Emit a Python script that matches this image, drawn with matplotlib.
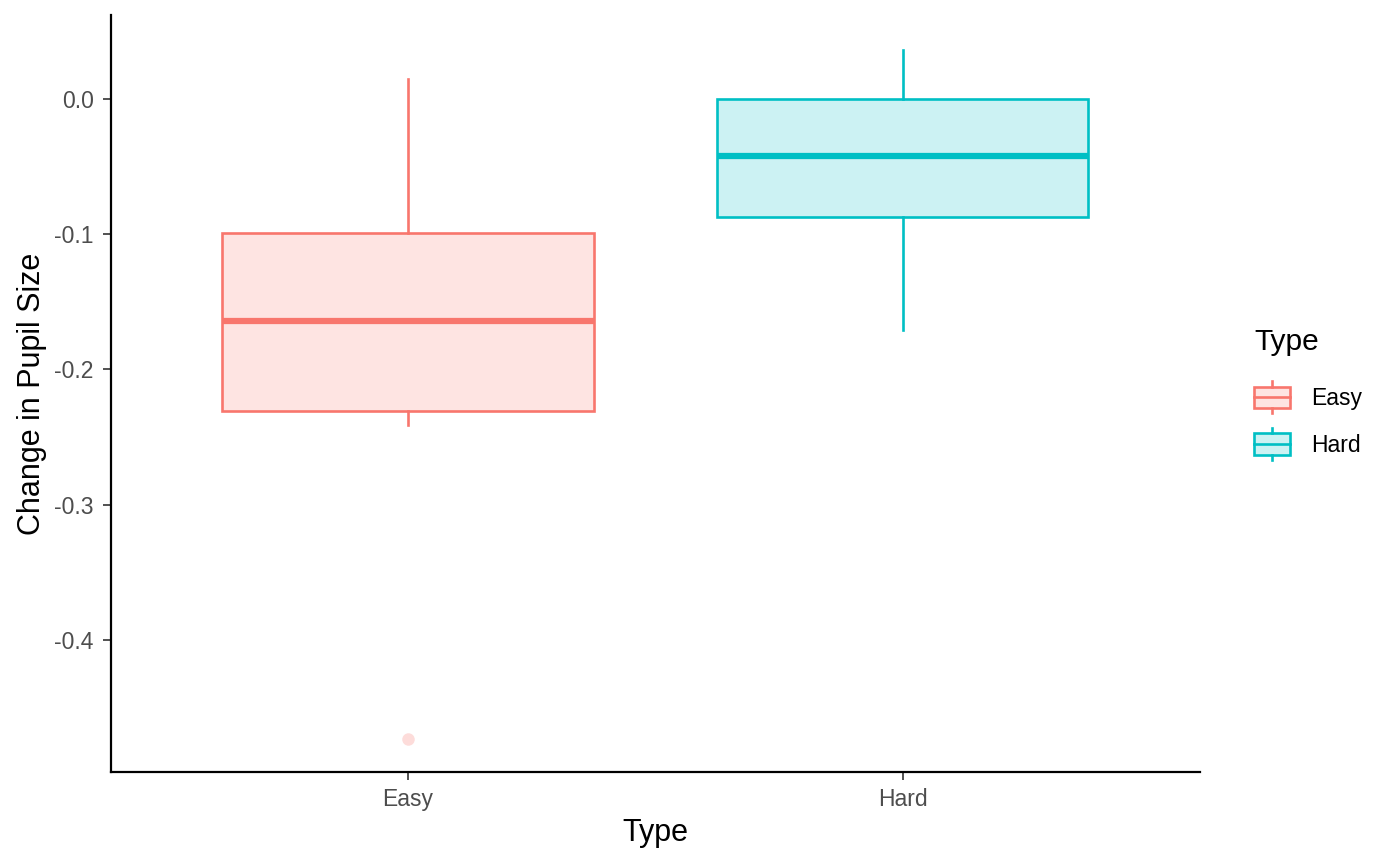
import matplotlib
matplotlib.use("Agg")
import matplotlib.pyplot as plt
from matplotlib.patches import Rectangle
from matplotlib.lines import Line2D
from matplotlib.legend_handler import HandlerBase
import matplotlib.colors as mcolors

plt.rcParams['font.family'] = ['Liberation Sans', 'DejaVu Sans']

categories = ["Easy", "Hard"]
colors = ["#F8766D", "#00BFC4"]
whis_lo = [-0.241, -0.171]
q1 = [-0.231, -0.087]
medians = [-0.164, -0.042]
q3 = [-0.099, 0.000]
whis_hi = [0.015, 0.036]
outliers = [[-0.473], []]

fig = plt.figure(figsize=(14, 8.65), dpi=100)
ax = fig.add_axes([0.0793, 0.1075, 0.7777, 0.8752])

def fill_of(c, a=0.2):
    r, g, b = mcolors.to_rgb(c)
    return (1 - a + a * r, 1 - a + a * g, 1 - a + a * b)

stats = []
for i, cat in enumerate(categories):
    stats.append(dict(label=cat, whislo=whis_lo[i], q1=q1[i], med=medians[i],
                      q3=q3[i], whishi=whis_hi[i], fliers=outliers[i]))

for i, s in enumerate(stats):
    c = colors[i]
    ax.bxp([s], positions=[i + 1], widths=0.75, patch_artist=True, showcaps=False,
           boxprops=dict(facecolor=fill_of(c), edgecolor=c, linewidth=1.9),
           medianprops=dict(color=c, linewidth=4.5, solid_capstyle='butt'),
           whiskerprops=dict(color=c, linewidth=1.9),
           flierprops=dict(marker='o', markerfacecolor=c, markeredgecolor='none',
                           markersize=9, alpha=0.25),
           manage_ticks=False)

ax.set_xlim(0.4, 2.6)
ax.set_ylim(-0.4976, 0.0621)
ax.set_xticks([1, 2])
ax.set_xticklabels(categories)
ax.set_yticks([0.0, -0.1, -0.2, -0.3, -0.4])
ax.set_yticklabels(["0.0", "-0.1", "-0.2", "-0.3", "-0.4"])
ax.tick_params(axis='both', colors='#333333', labelcolor='#4D4D4D', labelsize=16.5,
               length=6, width=1.2, direction='out')
ax.tick_params(axis='y', pad=6.5)
ax.tick_params(axis='x', pad=5.5)
for sp in ['top', 'right']:
    ax.spines[sp].set_visible(False)
for sp in ['left', 'bottom']:
    ax.spines[sp].set_linewidth(1.6)
ax.set_xlabel("Type", fontsize=22, labelpad=5)
ax.set_ylabel("Change in Pupil Size", fontsize=22, labelpad=5)


class BoxHandler(HandlerBase):
    def create_artists(self, legend, orig_handle, xdescent, ydescent, width, height,
                       fontsize, trans):
        c = orig_handle.get_color()
        x0, x1 = -xdescent, -xdescent + width
        y0 = -ydescent
        bh = height
        rect = Rectangle((x0, y0), width, bh, facecolor=fill_of(c), edgecolor=c,
                         linewidth=1.9, transform=trans)
        xm = (x0 + x1) / 2
        med = Line2D([x0, x1], [y0 + bh / 2] * 2, color=c, linewidth=1.9, transform=trans)
        wt = Line2D([xm, xm], [y0 + bh, y0 + bh + height * 0.25], color=c, linewidth=1.9, transform=trans)
        wb = Line2D([xm, xm], [y0, y0 - height * 0.25], color=c, linewidth=1.9, transform=trans)
        return [rect, med, wt, wb]

handles = [Line2D([], [], color=c) for c in colors]
leg = fig.legend(handles, categories, title="Type", loc='center left',
                 bbox_to_anchor=(1254 / 1400, 1 - 392.5 / 865), frameon=False, fontsize=16.5,
                 title_fontsize=21.5, handler_map={Line2D: BoxHandler()},
                 handlelength=1.57, handleheight=1.05, labelspacing=1.02,
                 handletextpad=0.92, alignment='left', borderpad=0, borderaxespad=0)
leg._legend_box.sep = 22

fig.savefig("out.png", dpi=100)
